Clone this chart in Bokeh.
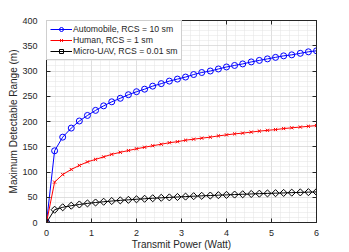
import math
from bokeh.plotting import figure
from bokeh.models import Range1d, SingleIntervalTicker, LinearAxis, CustomJSTickFormatter, Legend
from bokeh.embed import file_html
from bokeh.resources import INLINE

power = [0, 0.18, 0.36, 0.55, 0.73, 0.91, 1.09, 1.27, 1.45, 1.64, 1.82, 2.0, 2.18, 2.36,
         2.55, 2.73, 2.91, 3.09, 3.27, 3.45, 3.64, 3.82, 4.0, 4.18, 4.36, 4.55, 4.73, 4.91,
         5.09, 5.27, 5.45, 5.64, 5.82, 6.0]
automobile = [0, 142, 169, 187, 201, 212, 222, 231, 239, 246, 253, 259, 264, 270, 275, 280,
              284, 288, 293, 297, 300, 304, 308, 311, 314, 318, 321, 324, 327, 330, 332, 335,
              338, 340]
human = [0, 80, 95, 105, 113, 120, 125, 130, 135, 139, 142.5, 146, 149, 152, 155, 158, 160,
         163, 165, 167, 169, 171.5, 173.5, 175.5, 177, 179, 181, 182.5, 184, 186, 187.5, 189,
         190.5, 192]
micro_uav = [0, 25.3, 30.1, 33.3, 35.7, 37.8, 39.6, 41.1, 42.5, 43.8, 44.9, 46.0, 47.0, 48.0,
             48.9, 49.7, 50.5, 51.3, 52.1, 52.8, 53.4, 54.1, 54.7, 55.3, 55.9, 56.5, 57.1,
             57.6, 58.1, 58.6, 59.1, 59.6, 60.1, 60.6]

FONT = "Liberation Sans"
AX = "#262626"

p = figure(frame_width=270, frame_height=202, output_backend="svg", toolbar_location=None,
           x_range=Range1d(0, 6), y_range=Range1d(0, 400),
           min_border_left=46, min_border_right=30, min_border_top=20, min_border_bottom=0)

p.xaxis.ticker = SingleIntervalTicker(interval=1, num_minor_ticks=5)
p.yaxis.ticker = SingleIntervalTicker(interval=50, num_minor_ticks=5)
p.xaxis.axis_label = "Transmit Power (Watt)"
p.yaxis.axis_label = "Maximum Detectable Range (m)"

for ax in [p.xaxis[0], p.yaxis[0]]:
    ax.axis_label_text_font = FONT
    ax.axis_label_text_font_style = "normal"
    ax.axis_label_text_font_size = "10px"
    ax.axis_label_text_color = AX
    ax.major_label_text_font = FONT
    ax.major_label_text_font_size = "9px"
    ax.major_label_text_color = AX
    ax.axis_line_color = AX
    ax.major_tick_line_color = AX
    ax.major_tick_in = 4
    ax.major_tick_out = 0
    ax.minor_tick_line_color = None
p.xaxis.major_label_standoff = 3
p.xaxis.axis_label_standoff = 0
p.yaxis.major_label_standoff = 5
p.yaxis.axis_label_standoff = 0

empty = CustomJSTickFormatter(code="return '';")
top = LinearAxis(ticker=SingleIntervalTicker(interval=1), formatter=empty,
                 major_tick_in=4, major_tick_out=0, minor_tick_line_color=None,
                 axis_line_color=AX, major_tick_line_color=AX, major_label_standoff=0,
                 major_label_text_font_size="1px")
right = LinearAxis(ticker=SingleIntervalTicker(interval=50), formatter=empty,
                   major_tick_in=4, major_tick_out=0, minor_tick_line_color=None,
                   axis_line_color=AX, major_tick_line_color=AX, major_label_standoff=0,
                   major_label_text_font_size="1px")
p.add_layout(top, "above")
p.add_layout(right, "right")

for g in [p.xgrid[0], p.ygrid[0]]:
    g.grid_line_color = "#cccccc"
    g.grid_line_dash = "1 1"
    g.minor_grid_line_color = "#e2e2e2"
    g.minor_grid_line_dash = "1 1"
p.outline_line_color = AX

l1 = p.line(power, automobile, line_color="blue", line_width=1)
m1 = p.scatter(power, automobile, marker="circle", size=6, line_color="blue",
               fill_color=None, line_width=1)
l2 = p.line(power, human, line_color="red", line_width=1)
m2 = p.scatter(power, human, marker="x", size=4.5, line_color="red", line_width=1)
l3 = p.line(power, micro_uav, line_color="black", line_width=1)
m3 = p.scatter(power, micro_uav, marker="square", size=5, angle=math.pi / 4,
               line_color="black", fill_color=None, line_width=1)

legend = Legend(items=[("Automobile, RCS = 10 sm", [l1, m1]),
                       ("Human, RCS = 1 sm", [l2, m2]),
                       ("Micro-UAV, RCS = 0.01 sm", [l3, m3])],
                location="top_left")
legend.label_text_font = FONT
legend.label_text_font_size = "8.7px"
legend.label_text_color = AX
legend.glyph_width = 22
legend.glyph_height = 10
legend.label_height = 10
legend.spacing = 1
legend.padding = 3
legend.margin = 0
legend.label_standoff = 1
legend.border_line_color = "#a0a0a0"
legend.background_fill_alpha = 1
p.add_layout(legend, "center")

open("out.html", "w").write(file_html(p, INLINE))
